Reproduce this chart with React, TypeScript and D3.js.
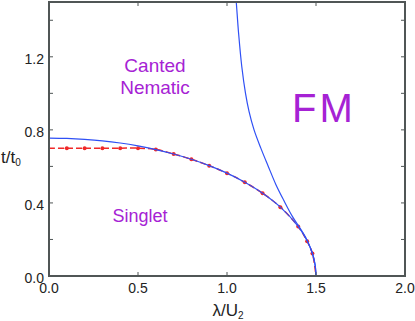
import React, { useEffect, useRef } from "react"
import * as d3 from "d3"

// phase diagram t/t0 vs lambda/U2
const lowerLambda = [0, 0.1, 0.2, 0.3, 0.4, 0.5, 0.6, 0.7, 0.8, 0.9, 1.0, 1.1, 1.2, 1.3, 1.4, 1.45, 1.48, 1.495, 1.5]
const lowerT = [0.755, 0.753, 0.748, 0.74, 0.728, 0.712, 0.692, 0.668, 0.639, 0.604, 0.563, 0.513, 0.453, 0.377, 0.271, 0.193, 0.123, 0.061, 0]

const upperLambda = [1.046, 1.051, 1.065, 1.083, 1.104, 1.124, 1.152, 1.19, 1.232, 1.275, 1.318, 1.368, 1.418, 1.448, 1.466, 1.48, 1.495, 1.5]
const upperT = [1.56, 1.512, 1.33, 1.147, 1.0, 0.9, 0.8, 0.7, 0.6, 0.5, 0.416, 0.325, 0.25, 0.2, 0.16, 0.123, 0.061, 0]

// red numerical points (dashed)
const redLambda = [0, 0.1, 0.2, 0.3, 0.4, 0.5, 0.6, 0.7, 0.8, 0.9, 1.0, 1.1, 1.2, 1.3, 1.4, 1.45, 1.48, 1.5]
const redT = [0.7, 0.7, 0.7, 0.7, 0.7, 0.7, 0.693, 0.668, 0.639, 0.604, 0.563, 0.513, 0.453, 0.377, 0.271, 0.19, 0.123, 0]
const redDots = [0.1, 0.2, 0.3, 0.4, 0.5, 0.6, 0.7, 0.8, 0.9, 1.0, 1.1, 1.2, 1.3, 1.4, 1.45, 1.48]

const xTicks = [0, 0.5, 1.0, 1.5, 2.0]
const yTicks = [0, 0.2, 0.4, 0.6, 0.8, 1.0, 1.2, 1.4]
const yLabels = [0, 0.4, 0.8, 1.2]

const W = 415, H = 321
const margin = { top: 2, right: 10, bottom: 45, left: 49 }
const axisColor = "#505656"
const purple = "#a622d4"
const blue = "#2f50f5"
const red = "#f02828"
const font = "'Liberation Sans', Arial, sans-serif"

export default function App() {
  const ref = useRef<SVGSVGElement>(null)

  useEffect(() => {
    const svg = d3.select(ref.current)
    svg.selectAll("*").remove()

    const x = d3.scaleLinear().domain([0, 2]).range([margin.left, W - margin.right])
    const y = d3.scaleLinear().domain([0, 1.5]).range([H - margin.bottom, margin.top])
    const x0 = x(0), x1 = x(2), y0 = y(0), y1 = y(1.5)

    svg.append("defs").append("clipPath").attr("id", "plot")
      .append("rect").attr("x", x0).attr("y", y1).attr("width", x1 - x0).attr("height", y0 - y1)

    const g = svg.append("g").attr("clip-path", "url(#plot)")

    const line = d3.line<[number, number]>()
      .x(d => x(d[0])).y(d => y(d[1]))
      .curve(d3.curveCatmullRom)

    const red_ = redLambda.map((l, i) => [l, redT[i]] as [number, number])
    g.append("path").datum(red_)
      .attr("d", line).attr("fill", "none")
      .attr("stroke", red).attr("stroke-width", 1.5)
      .attr("stroke-dasharray", "6,3")

    g.selectAll(".dot").data(redDots).enter().append("circle")
      .attr("cx", d => x(d))
      .attr("cy", d => y(redT[redLambda.indexOf(d)]))
      .attr("r", 2).attr("fill", red)

    const lower = lowerLambda.map((l, i) => [l, lowerT[i]] as [number, number])
    g.append("path").datum(lower)
      .attr("d", line).attr("fill", "none")
      .attr("stroke", blue).attr("stroke-width", 1.2)

    const upper = upperLambda.map((l, i) => [l, upperT[i]] as [number, number])
    g.append("path").datum(upper)
      .attr("d", line).attr("fill", "none")
      .attr("stroke", blue).attr("stroke-width", 1.2)

    // ticks (inward) on all four sides
    const ticks = svg.append("g").attr("stroke", axisColor).attr("stroke-width", 1)
    xTicks.forEach(t => {
      ticks.append("line").attr("x1", x(t)).attr("x2", x(t)).attr("y1", y0).attr("y2", y0 - 4)
      ticks.append("line").attr("x1", x(t)).attr("x2", x(t)).attr("y1", y1).attr("y2", y1 + 4)
    })
    yTicks.forEach(t => {
      ticks.append("line").attr("x1", x0).attr("x2", x0 + 4).attr("y1", y(t)).attr("y2", y(t))
      ticks.append("line").attr("x1", x1).attr("x2", x1 - 4).attr("y1", y(t)).attr("y2", y(t))
    })

    svg.append("rect").attr("x", x0).attr("y", y1).attr("width", x1 - x0).attr("height", y0 - y1)
      .attr("fill", "none").attr("stroke", axisColor).attr("stroke-width", 2)

    svg.selectAll(".xl").data(xTicks).enter().append("text")
      .attr("x", d => x(d)).attr("y", y0 + 17)
      .attr("text-anchor", "middle").attr("font-size", 14).attr("font-family", font).attr("fill", "#222")
      .text(d => d.toFixed(1))

    svg.selectAll(".yl").data(yLabels).enter().append("text")
      .attr("x", x0 - 5).attr("y", d => y(d)).attr("dy", "0.5em")
      .attr("text-anchor", "end").attr("font-size", 14).attr("font-family", font).attr("fill", "#222")
      .text(d => d.toFixed(1))

    // axis titles
    const xt = svg.append("text").attr("x", 228).attr("y", 316)
      .attr("text-anchor", "middle").attr("font-size", 17).attr("font-family", font).attr("fill", "#222")
    xt.append("tspan").text("λ/U")
    xt.append("tspan").attr("font-size", 10).attr("dy", 3).text("2")

    const yt = svg.append("text").attr("x", 1).attr("y", 163)
      .attr("font-size", 17).attr("font-family", font).attr("fill", "#222")
    yt.append("tspan").text("t/t")
    yt.append("tspan").attr("font-size", 10).attr("dy", 3).text("0")

    // region labels
    const lab = (txt: string, xx: number, yy: number, size: number, anchor = "middle") =>
      svg.append("text").attr("x", xx).attr("y", yy).attr("text-anchor", anchor)
        .attr("font-size", size).attr("font-family", font).attr("fill", purple).text(txt)
    lab("Canted", 155, 72, 19)
    lab("Nematic", 155, 94, 19)
    lab("Singlet", 140, 222, 18)
    lab("FM", 324, 122, 40).attr("letter-spacing", 3)
  }, [])

  return (
    <svg ref={ref} width={W} height={H} style={{ position: "absolute", left: 0, top: 0 }} />
  )
}
